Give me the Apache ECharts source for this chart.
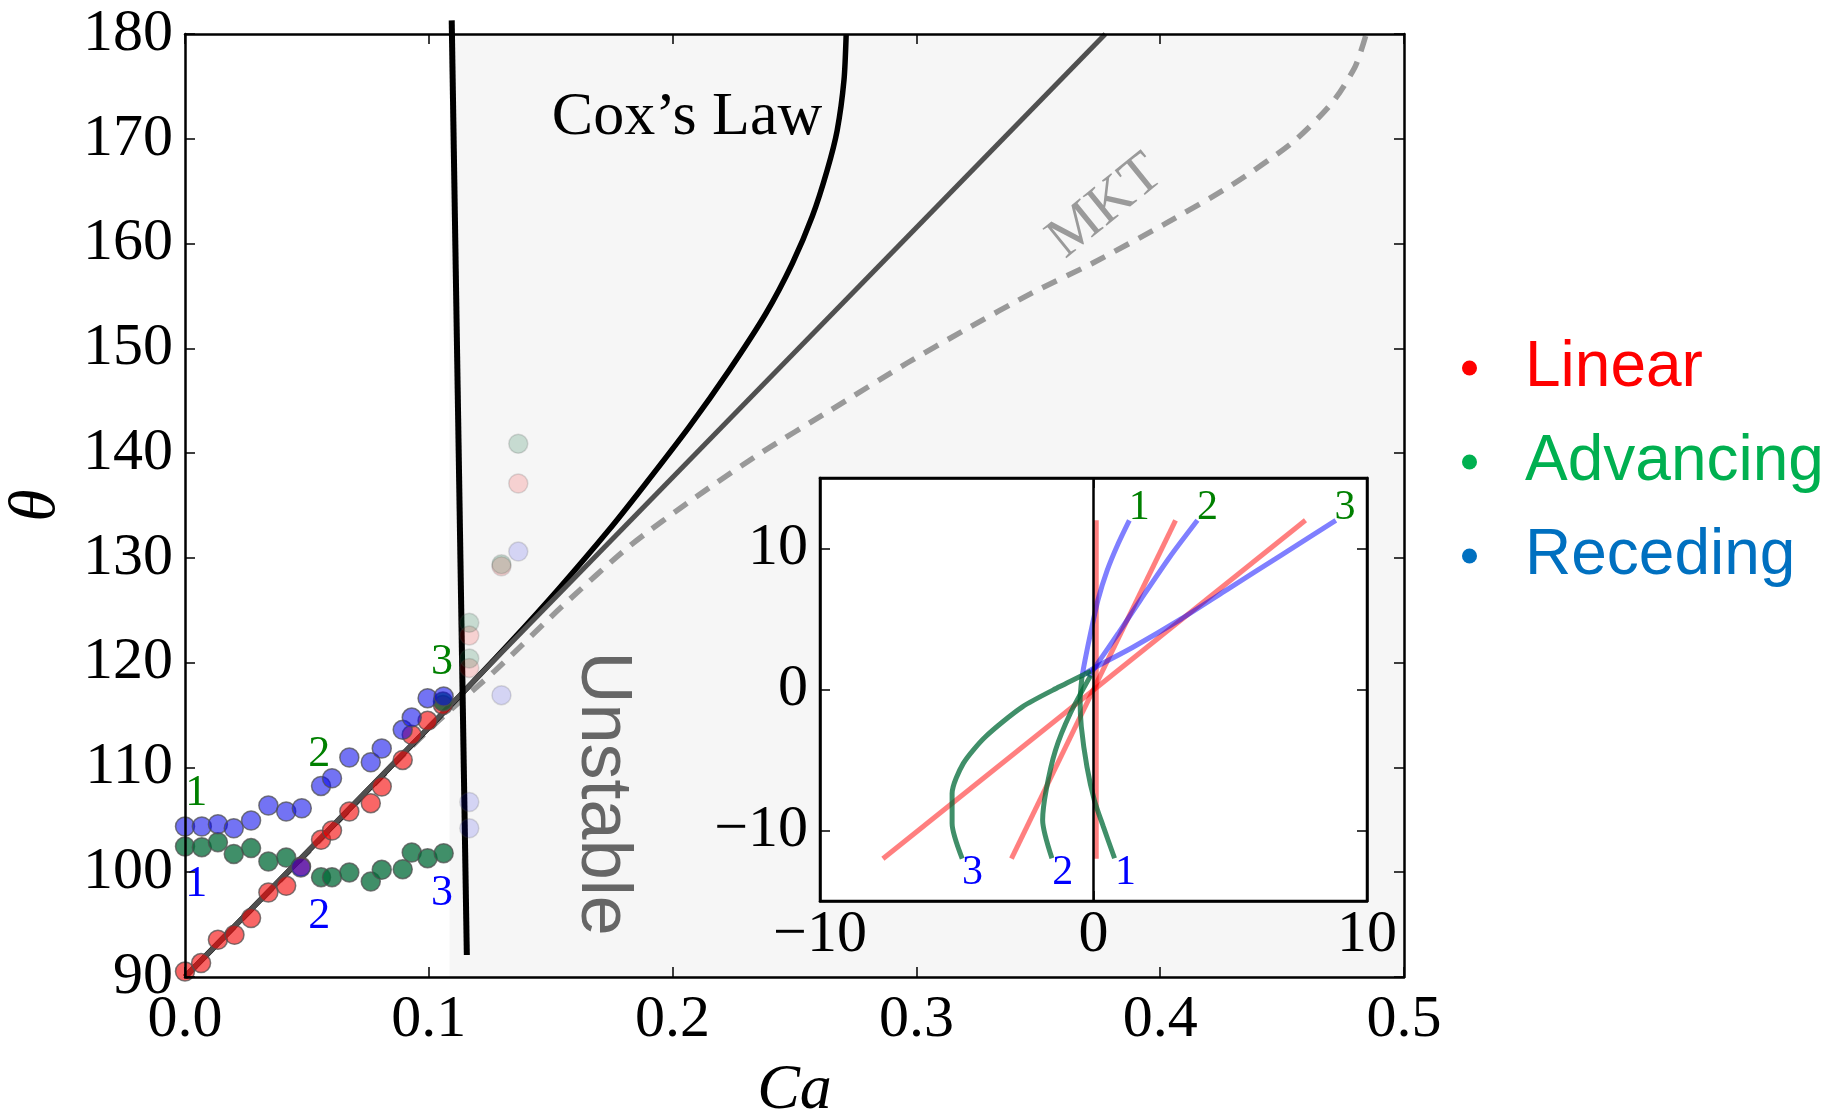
<!DOCTYPE html>
<html><head><meta charset="utf-8">
<script src="https://cdn.jsdelivr.net/npm/echarts@6/dist/echarts.min.js"></script>
<style>html,body{margin:0;padding:0;background:#fff;}#chart{width:1837px;height:1109px;}</style>
</head><body><div id="chart"></div>
<script>
// ---------- tick labels ----------
const mainXTicks = [0.0, 0.1, 0.2, 0.3, 0.4, 0.5];
const mainYTicks = [90, 100, 110, 120, 130, 140, 150, 160, 170, 180];
const insetXTicks = [-10, 0, 10];
const insetYTicks = [-10, 0, 10];

// ---------- main plot data (Ca, theta) ----------
const linearPts = [[0,90.53],[0.0066,91.33],[0.0135,93.55],[0.0203,94.03],[0.0271,95.62],[0.0342,98.06],[0.0415,98.7],[0.0476,100.54],[0.0558,103.09],[0.0603,103.98],[0.0674,105.8],[0.0762,106.59],[0.0807,108.18],[0.0893,110.72],[0.093,113.11],[0.0995,114.45],[0.1058,115.97]];
const advancingPts = [[0,102.45],[0.0069,102.39],[0.0135,102.87],[0.020,101.75],[0.0271,102.3],[0.0342,101.02],[0.0415,101.4],[0.0558,99.53],[0.0603,99.53],[0.0674,99.98],[0.0762,99.11],[0.0807,100.23],[0.0893,100.29],[0.093,101.88],[0.0995,101.34],[0.1061,101.82],[0.1058,116.3]];
const recedingPts = [[0,104.36],[0.0069,104.36],[0.0135,104.59],[0.020,104.2],[0.0271,104.94],[0.0342,106.37],[0.0415,105.8],[0.0479,106.11],[0.0558,108.24],[0.0603,108.97],[0.0674,110.95],[0.0762,110.5],[0.0807,111.81],[0.0893,113.59],[0.093,114.76],[0.0995,116.61],[0.1061,116.77],[0.0475,100.45]];
const linearFaded = [[0.1166,122.6],[0.1166,119.5],[0.1298,129.2],[0.1367,137.1]];
const advancingFaded = [[0.1166,123.8],[0.1166,120.4],[0.1298,129.4],[0.1367,140.9]];
const recedingFaded = [[0.1367,130.6],[0.1298,116.9],[0.1166,106.7],[0.1166,104.2]];

const linearModel = [[0,90],[0.3775,180]];
const coxLaw = [[0,90],[0.05,101.9],[0.1,113.8],[0.113,116.9],[0.1337,122],[0.1531,127],[0.174,132.7],[0.189,137.1],[0.2068,142.5],[0.2232,147.9],[0.2382,153.3],[0.2491,158.1],[0.2573,162.6],[0.2634,167.0],[0.2675,170.8],[0.2703,175.6],[0.2712,180]];
const mktLaw = [[0,90],[0.05,101.8],[0.1,113.6],[0.1275,119.3],[0.1548,125.4],[0.1822,131.1],[0.2095,135.8],[0.2368,140.1],[0.2641,144.0],[0.2962,148.6],[0.3202,151.8],[0.3475,155.3],[0.372,158.1],[0.4021,161.9],[0.4294,165.6],[0.454,169.6],[0.4704,173.4],[0.48,176.9],[0.4845,180]];
const instability = [[0.1094,181.3],[0.1156,92.1]];
const unstableStart = 0.1085;

const mainGreenNums = [[0.0046,107.5,'1'],[0.0551,111.2,'2'],[0.1054,120.0,'3']];
const mainBlueNums = [[0.0046,98.8,'1'],[0.0551,95.8,'2'],[0.1054,98.0,'3']];
const coxText = [[0.2059,172.0,'Cox\u2019s Law']];
const mktText = [[0.3776,163.5,'MKT']];
const unstableText = [[0.1711,107.5,'Unstable']];

// ---------- inset data ----------
const insetRed1 = [[0.1,-12],[0.1,12]];
const insetRed2 = [[-3.0,-12],[3.0,12]];
const insetRed3 = [[-7.7,-12],[7.75,12]];
const insetBlue1 = [[1.31,12.0],[0.90,10.34],[0.50,8.45],[0.16,6.33],[-0.11,3.97],[-0.31,2.08],[-0.42,0.9]];
const insetGreen1 = [[-0.42,0.9],[-0.49,-0.76],[-0.445,-2.64],[-0.24,-5.48],[0.03,-7.84],[0.36,-9.73],[0.77,-11.97]];
const insetBlue2 = [[3.80,12.0],[2.79,9.4],[1.71,6.33],[0.90,3.97],[0.23,2.08],[-0.18,0.9]];
const insetGreen2 = [[-0.1,1.0],[-0.85,-1.7],[-1.39,-4.3],[-1.73,-7.13],[-1.86,-9.26],[-1.52,-11.97]];
const insetBlue3 = [[8.86,12.0],[6.84,9.5],[4.9,7.1],[3.2,5.0],[1.44,3.0],[0.09,1.6],[-0.31,1.13]];
const insetGreen3 = [[-0.1,1.3],[-1.25,0.19],[-2.6,-1.23],[-3.95,-3.35],[-4.76,-5.24],[-5.17,-7.37],[-5.17,-9.49],[-4.8,-12.0]];
const insetZero = [[0,-15],[0,15]];
const insetGreenNums = [[1.67,12.9,'1'],[4.17,12.9,'2'],[9.2,12.9,'3']];
const insetBlueNums = [[1.17,-13.0,'1'],[-1.12,-13.0,'2'],[-4.42,-13.0,'3']];

// ---------- styles ----------
const SERIF = "'Liberation Serif','Times New Roman',serif";
const SANS = "'Liberation Sans',Arial,sans-serif";
const RED = 'rgba(245,0,0,0.6)', GREEN = 'rgba(0,105,55,0.75)', BLUE = 'rgba(0,0,235,0.55)';
const minus = v => (v < 0 ? '\u2212' + Math.abs(v) : String(v));

function axis(o) {
  const a = {
    type: 'value', gridIndex: o.grid, min: o.min, max: o.max, position: o.pos, z: o.z,
    axisLine: { show: true, onZero: false, lineStyle: { color: '#000', width: 2.5 } },
    axisTick: { show: true, inside: true, length: 10, customValues: o.ticks, lineStyle: { color: '#000', width: 1.5 } },
    axisLabel: { show: !!o.labels, customValues: o.ticks, formatter: o.fmt, fontFamily: SERIF, fontSize: 60, color: '#000', margin: o.margin || 10 },
    splitLine: { show: false }
  };
  if (o.name) {
    a.name = o.name; a.nameLocation = 'middle'; a.nameGap = o.nameGap;
    a.nameTextStyle = { fontFamily: SERIF, fontStyle: 'italic', fontSize: o.nameSize, color: '#000' };
  }
  return a;
}

function scatter(name, data, color, opacity, z) {
  return { type: 'scatter', name: name, xAxisIndex: 0, yAxisIndex: 0, data: data, symbolSize: 19, z: z, silent: true,
    itemStyle: { color: color, borderColor: 'rgba(80,80,80,0.75)', borderWidth: 1.5, opacity: opacity } };
}
function line(data, color, width, xi, z, extra) {
  return Object.assign({ type: 'line', xAxisIndex: xi, yAxisIndex: xi, data: data, showSymbol: false, symbol: 'none', silent: true, z: z,
    lineStyle: { color: color, width: width } }, extra || {});
}
function texts(items, xi, z, style) {
  return { type: 'scatter', xAxisIndex: xi, yAxisIndex: xi, symbolSize: 1, silent: true, z: z, clip: false,
    itemStyle: { color: 'rgba(0,0,0,0)' },
    data: items.map(d => ({ value: [d[0], d[1]], label: { formatter: d[2] } })),
    label: Object.assign({ show: true, position: 'inside', textBorderWidth: 0, opacity: 1 }, style) };
}

const option = {
  animation: false,
  backgroundColor: '#fff',
  grid: [
    { left: 185, top: 34, width: 1219, height: 943, show: false, containLabel: false, outerBoundsMode: 'none' },
    { left: 820, top: 478, width: 547, height: 423, show: true, backgroundColor: '#fff', borderColor: '#000', borderWidth: 2.5, z: 5, containLabel: false, outerBoundsMode: 'none' }
  ],
  xAxis: [
    axis({ grid: 0, min: 0, max: 0.5, pos: 'bottom', z: 3, ticks: mainXTicks, labels: true, fmt: v => v.toFixed(1), margin: 13, name: 'Ca', nameGap: 82, nameSize: 64 }),
    axis({ grid: 0, min: 0, max: 0.5, pos: 'top', z: 3, ticks: mainXTicks }),
    axis({ grid: 1, min: -10, max: 10, pos: 'bottom', z: 7, ticks: insetXTicks, labels: true, fmt: minus, margin: 4 }),
    axis({ grid: 1, min: -10, max: 10, pos: 'top', z: 7, ticks: insetXTicks })
  ],
  yAxis: [
    axis({ grid: 0, min: 90, max: 180, pos: 'left', z: 3, ticks: mainYTicks, labels: true, fmt: v => String(v), margin: 12, name: '\u03b8', nameGap: 115, nameSize: 66 }),
    axis({ grid: 0, min: 90, max: 180, pos: 'right', z: 3, ticks: mainYTicks }),
    axis({ grid: 1, min: -15, max: 15, pos: 'left', z: 7, ticks: insetYTicks, labels: true, fmt: minus, margin: 12 }),
    axis({ grid: 1, min: -15, max: 15, pos: 'right', z: 7, ticks: insetYTicks })
  ],
  legend: {
    orient: 'vertical', left: 1457, top: 331, itemWidth: 15, itemHeight: 15, itemGap: 30, icon: 'circle',
    selectedMode: false,
    textStyle: { fontFamily: SANS, fontSize: 64, lineHeight: 62, padding: [0, 0, 0, 43] },
    data: [
      { name: 'Linear', itemStyle: { color: '#ff0000', borderWidth: 0, opacity: 1 }, textStyle: { color: '#ff0000' } },
      { name: 'Advancing', itemStyle: { color: '#00b050', borderWidth: 0, opacity: 1 }, textStyle: { color: '#00b050' } },
      { name: 'Receding', itemStyle: { color: '#0070c0', borderWidth: 0, opacity: 1 }, textStyle: { color: '#0070c0' } }
    ]
  },
  series: [
    { type: 'line', xAxisIndex: 0, yAxisIndex: 0, data: [[0.3, 135]], symbol: 'none', silent: true, z: 1,
      lineStyle: { opacity: 0 },
      markArea: { silent: true, itemStyle: { color: '#f6f6f6' }, data: [[{ xAxis: unstableStart, yAxis: 90 }, { xAxis: 0.5, yAxis: 180 }]] } },
    scatter('LinearFaded', linearFaded, RED, 0.25, 2),
    scatter('AdvancingFaded', advancingFaded, GREEN, 0.25, 2),
    scatter('RecedingFaded', recedingFaded, BLUE, 0.25, 2),
    scatter('Linear', linearPts, RED, 1, 2),
    scatter('Advancing', advancingPts, GREEN, 1, 2),
    scatter('Receding', recedingPts, BLUE, 1, 2),
    line(mktLaw, '#999999', 5.5, 0, 2, { smooth: 0.25, lineStyle: { color: '#999999', width: 5.5, type: [16, 11] } }),
    line(coxLaw, '#000000', 5.5, 0, 2, { smooth: 0.25 }),
    line(linearModel, '#505050', 5, 0, 2),
    line(instability, '#000000', 6, 0, 2, { clip: false }),
    texts(mainGreenNums, 0, 2, { fontFamily: SERIF, fontSize: 44, color: '#008000' }),
    texts(mainBlueNums, 0, 2, { fontFamily: SERIF, fontSize: 44, color: '#0000ff' }),
    texts(coxText, 0, 2, { fontFamily: SERIF, fontSize: 62, color: '#000000' }),
    texts(mktText, 0, 2, { fontFamily: SERIF, fontSize: 58, color: '#9a9a9a', rotate: 39 }),
    texts(unstableText, 0, 2, { fontFamily: SANS, fontSize: 72, color: '#666666', rotate: -90 }),
    // inset
    line(insetRed1, 'rgba(255,0,0,0.5)', 5, 2, 6),
    line(insetRed2, 'rgba(255,0,0,0.5)', 5, 2, 6),
    line(insetRed3, 'rgba(255,0,0,0.5)', 5, 2, 6),
    line(insetBlue1, 'rgba(0,0,255,0.5)', 5, 2, 6, { smooth: 0.25 }),
    line(insetBlue2, 'rgba(0,0,255,0.5)', 5, 2, 6, { smooth: 0.25 }),
    line(insetBlue3, 'rgba(0,0,255,0.5)', 5, 2, 6, { smooth: 0.25 }),
    line(insetGreen1, GREEN, 5, 2, 6, { smooth: 0.25 }),
    line(insetGreen2, GREEN, 5, 2, 6, { smooth: 0.25 }),
    line(insetGreen3, GREEN, 5, 2, 6, { smooth: 0.25 }),
    line(insetZero, '#000000', 2.5, 2, 6),
    texts(insetGreenNums, 2, 6, { fontFamily: SERIF, fontSize: 42, color: '#008000' }),
    texts(insetBlueNums, 2, 6, { fontFamily: SERIF, fontSize: 42, color: '#0000ff' })
  ]
};

const chart = echarts.init(document.getElementById('chart'), null, { renderer: 'canvas' });
chart.setOption(option);
</script>
</body></html>
